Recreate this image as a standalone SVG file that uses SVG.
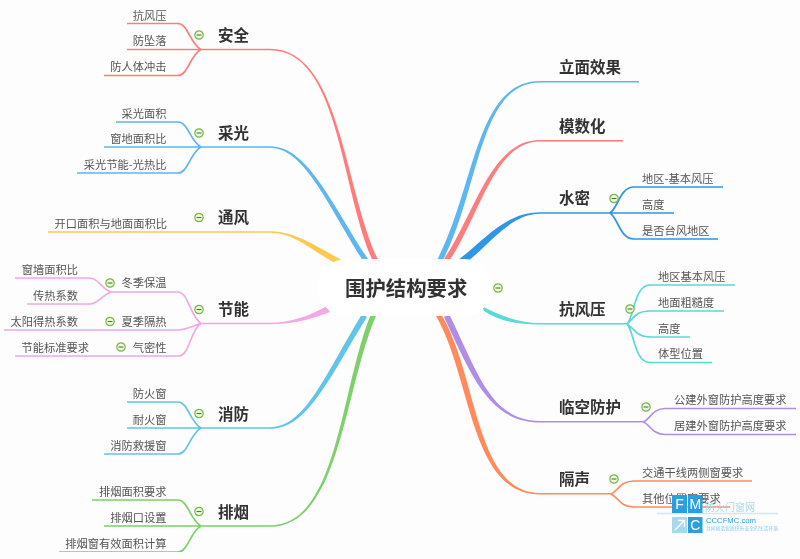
<svg xmlns="http://www.w3.org/2000/svg" width="800" height="559" viewBox="0 0 800 559">
<style>
.l{fill:none;stroke-width:1.7;stroke-linecap:butt}
.t{font-family:"Noto Sans CJK SC","Liberation Sans",sans-serif;font-size:11.25px;fill:#555}
.e{text-anchor:end}
.m{font-family:"Noto Sans CJK SC","Liberation Sans",sans-serif;font-size:15.5px;font-weight:700;fill:#333}
.r{font-family:"Noto Sans CJK SC","Liberation Sans",sans-serif;font-size:20.4px;font-weight:700;fill:#333}
.w{font-family:"Liberation Sans",sans-serif;fill:#2a9fdc}
.z{stroke:#fff;stroke-width:1.3;fill:none}
.lg{font-family:"Noto Sans CJK SC",sans-serif}
</style>
<defs>
<g id="c"><circle r="4.2" fill="#eef6e4" stroke="#76b843" stroke-width="1.2"/><path d="M-2.4 0H2.4" stroke="#4b7a2a" stroke-width="1.1"/></g>
<filter id="b" x="0" y="0" width="100%" height="100%"><feGaussianBlur stdDeviation="0.3"/></filter>
</defs>
<rect width="800" height="559" fill="#fdfdfd"/>
<g filter="url(#b)">
<g id="connectors">
<path class="l" stroke="#ff7b7b" d="M127 23.500H178C188 23.500 190 44 201 49.500M127 49.500H270M104 75.500H178C188 75.500 190 55 201 49.500"/>
<path fill="#ff7b7b" d="M270 48.700C341 48.700 344 190 379 262L374 264C340 190 340 50.300 270 50.300Z"/>
<path class="l" stroke="#5cb6f0" d="M116 122H178C188 122 190 141 201 147M104 147H270M77 173H178C188 173 190 153 201 147"/>
<path fill="#5cb6f0" d="M270 146.200C308 146.200 332 205 370 262L365 264C329 208 305 147.800 270 147.800Z"/>
<path fill="#ffc84f" d="M48 231.300H270C295 231.300 315 246 342 260L337 264C310 250 295 232.700 270 232.700H48Z"/>
<path class="l" stroke="#f3a7e3" d="M15 278H90C98 278 102 289 111 292M27 304H90C98 304 102 295 111 292M110 292H178C188 292 190 316 201 323.500M4 330H178C186 330 192 326 201 323.500M15 356H178C190 356 190 330 201 323.500M200 323.500H270"/>
<path fill="#f3a7e3" d="M270 322.700C290 322.700 310 316 327 306L330 312C310 320 290 324.300 270 324.300Z"/>
<path class="l" stroke="#60c5e8" d="M127 402H178C188 402 190 422 201 428M127 428H270M104 454H178C188 454 190 434 201 428"/>
<path fill="#60c5e8" d="M270 427.200C305 427.200 325 375 362 314L367 317C329 378 308 428.800 270 428.800Z"/>
<path class="l" stroke="#7ed06a" d="M92 500H178C188 500 190 520 201 526M104 526H270M59 552H178C188 552 190 532 201 526"/>
<path fill="#7ed06a" d="M270 525.200C338 525.200 340 390 371 314L376 316C344 390 340 526.800 270 526.800Z"/>
<path fill="#5cb6f0" d="M436 262C475 190 475 81 540 81H639V82.500H540C478 82.500 480 192 441 264Z"/>
<path fill="#ff7b7b" d="M442 262C475 215 490 140 540 140H623V141.500H540C493 141.500 480 218 447 264Z"/>
<path fill="#2e96e6" d="M458 260C485 240 505 212.200 540 212.200H610V213.800H540C510 213.800 490 245 463 265Z"/>
<path class="l" stroke="#2e96e6" d="M610 213C618 208 620 187 634 187H723M610 213H674M610 213C618 218 620 239 634 239H718"/>
<path fill="#5bd8d6" d="M482 306C500 316 520 323 540 323H627V324.600H540C520 324.600 500 322 484 311Z"/>
<path class="l" stroke="#5bd8d6" d="M627 324C634 318 634 285 650 285H735M627 324C634 318 636 311 650 311H724M627 324C634 328 636 337 650 337H690M627 324C634 330 634 362.500 650 362.500H712"/>
<path fill="#b18ee6" d="M444 317L449 314C477 370 490 421 540 421H643V422.500H540C488 422.500 470 372 444 317Z"/>
<path class="l" stroke="#b18ee6" d="M643 422C650 420 652 408.500 665 408.500H796M643 422C650 424 652 434.500 665 434.500H796"/>
<path fill="#ff8a5c" d="M436 316L441 314C478 375 475 493 540 493H611V494.500H540C470 494.500 472 378 436 316Z"/>
<path class="l" stroke="#ff8a5c" d="M611 494C618 491 620 481 634 481H752M611 494C618 497 620 507 634 507H730"/>
</g>
<g id="root"><rect x="318" y="259" width="174" height="57" rx="28" fill="#fff"/><text class="r" x="345" y="295.500">围护结构要求</text><use href="#c" x="498" y="288"/></g>
<g id="n-anquan"><text class="m" x="218" y="40.500">安全</text><use href="#c" x="199" y="35"/><text class="t e" x="166.500" y="19.500">抗风压</text><text class="t e" x="166.500" y="45">防坠落</text><text class="t e" x="166.500" y="71">防人体冲击</text></g>
<g id="n-caiguang"><text class="m" x="218" y="138.500">采光</text><use href="#c" x="199" y="133"/><text class="t e" x="166.500" y="118">采光面积</text><text class="t e" x="166.500" y="143">窗地面积比</text><text class="t e" x="166.500" y="169">采光节能-光热比</text></g>
<g id="n-tongfeng"><text class="m" x="218" y="223">通风</text><use href="#c" x="199" y="217.500"/><text class="t e" x="167" y="228">开口面积与地面面积比</text></g>
<g id="n-jieneng"><text class="m" x="218" y="315">节能</text><use href="#c" x="199" y="309.500"/><text class="t e" x="166.500" y="287">冬季保温</text><use href="#c" x="110" y="283"/><text class="t e" x="78" y="274">窗墙面积比</text><text class="t e" x="78" y="300">传热系数</text><text class="t e" x="166.500" y="326">夏季隔热</text><use href="#c" x="110" y="321.500"/><text class="t e" x="78" y="326">太阳得热系数</text><text class="t e" x="166.500" y="351.500">气密性</text><use href="#c" x="121" y="347"/><text class="t e" x="89" y="351.500">节能标准要求</text></g>
<g id="n-xiaofang"><text class="m" x="218" y="419.500">消防</text><use href="#c" x="199" y="413.500"/><text class="t e" x="166.500" y="398">防火窗</text><text class="t e" x="166.500" y="424">耐火窗</text><text class="t e" x="166.500" y="450">消防救援窗</text></g>
<g id="n-paiyan"><text class="m" x="218" y="518">排烟</text><use href="#c" x="199" y="511.500"/><text class="t e" x="166.500" y="496">排烟面积要求</text><text class="t e" x="166.500" y="522">排烟口设置</text><text class="t e" x="166.500" y="548">排烟窗有效面积计算</text></g>
<g id="n-limian"><text class="m" x="559" y="72.500">立面效果</text></g>
<g id="n-moshu"><text class="m" x="559" y="132">模数化</text></g>
<g id="n-shuimi"><text class="m" x="559" y="204">水密</text><use href="#c" x="614" y="198.500"/><text class="t" x="642" y="182.500">地区-基本风压</text><text class="t" x="642" y="209">高度</text><text class="t" x="642" y="235">是否台风地区</text></g>
<g id="n-kangfeng"><text class="m" x="559" y="315">抗风压</text><use href="#c" x="630" y="309"/><text class="t" x="658" y="281">地区基本风压</text><text class="t" x="658" y="306.500">地面粗糙度</text><text class="t" x="658" y="332.500">高度</text><text class="t" x="658" y="358">体型位置</text></g>
<g id="n-linkong"><text class="m" x="559" y="413">临空防护</text><use href="#c" x="646" y="407"/><text class="t" x="674" y="404">公建外窗防护高度要求</text><text class="t" x="674" y="430">居建外窗防护高度要求</text></g>
<g id="n-gesheng"><text class="m" x="559" y="485">隔声</text><use href="#c" x="614" y="479"/><text class="t" x="642" y="476.500">交通干线两侧窗要求</text><text class="t" x="642" y="502.500">其他位置窗要求</text></g>
<g id="logo">
<path d="M657 513.500H778" stroke="#cfe8f5" stroke-width="1.500"/>
<rect x="672" y="495" width="15" height="18" fill="#2a9fdc"/><rect x="688" y="495" width="14.500" height="18" fill="#2a9fdc"/>
<rect x="672" y="517" width="15" height="16" fill="#a8d8ef"/><rect x="688" y="517" width="14.500" height="16" fill="#2a9fdc"/>
<text x="679.500" y="509" text-anchor="middle" class="w" style="fill:#fff;font-size:14px">F</text>
<text x="695.300" y="509" text-anchor="middle" class="w" style="fill:#fff;font-size:14px">M</text>
<text x="695.300" y="530" text-anchor="middle" class="w" style="fill:#fff;font-size:14px">C</text>
<path class="z" d="M675 530L684 521M678 520.500H684.500V527"/>
<text class="lg" x="705" y="510.500" style="font-size:10px;fill:#a8d8ef">防火门窗网</text>
<text class="w" x="706" y="523" style="font-size:7.700px">CCCFMC.com</text>
<text class="lg" x="706" y="530" style="font-size:4.800px;fill:#8cc8e8">共同创造优质快乐安全的生活环境</text>
</g>
</g>
</svg>
